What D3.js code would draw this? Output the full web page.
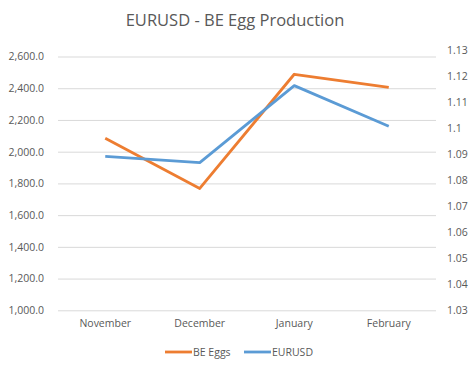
<!DOCTYPE html>
<html><head><meta charset="utf-8">
<script src="https://cdn.jsdelivr.net/npm/d3@7"></script>
<style>body{margin:0;background:#fff}svg{display:block}</style>
</head><body>
<svg id="c" width="471" height="366"></svg>
<script>
const months = ["November", "December", "January", "February"];
const beEggs = [2084, 1768, 2488, 2406];
const eurusd = [1.0891, 1.0867, 1.1163, 1.1007];
const leftTicks = [1000, 1200, 1400, 1600, 1800, 2000, 2200, 2400, 2600];
const rightTicks = [1.03, 1.04, 1.05, 1.06, 1.07, 1.08, 1.09, 1.1, 1.11, 1.12, 1.13];
const title = "EURUSD - BE Egg Production";
const seriesNames = ["BE Eggs", "EURUSD"];

const svg = d3.select("#c");
const font = "'Open Sans', 'Liberation Sans', sans-serif";
const txt = "#595959";
const x = d3.scaleBand().domain(months).range([58, 436]);
const yL = d3.scaleLinear().domain([1000, 2600]).range([310.3, 56.5]);
const yR = d3.scaleLinear().domain([1.03, 1.13]).range([310.3, 50]);

svg.append("text").attr("x", 235).attr("y", 26).attr("text-anchor", "middle")
  .attr("font-family", font).attr("font-size", 16.5).attr("fill", txt).text(title);

// gridlines + left axis
const gl = svg.append("g").attr("transform", "translate(58,0)")
  .call(d3.axisLeft(yL).tickValues(leftTicks).tickSize(-378).tickPadding(14)
    .tickFormat(d => d3.format(",.1f")(d)));
gl.select(".domain").remove();
gl.selectAll("line").attr("stroke", "#d9d9d9").attr("stroke-width", 1);
gl.selectAll("text").attr("font-family", font).attr("font-size", 10.5).attr("fill", txt);

const gr = svg.append("g").attr("transform", "translate(436,0)")
  .call(d3.axisRight(yR).tickValues(rightTicks).tickSize(0).tickPadding(11)
    .tickFormat(d => String(+d.toFixed(2))));
gr.select(".domain").remove();
gr.selectAll("text").attr("font-family", font).attr("font-size", 10.5).attr("fill", txt);

const gx = svg.append("g").attr("transform", "translate(0,310.3)")
  .call(d3.axisBottom(x).tickSize(0).tickPadding(9));
gx.select(".domain").remove();
gx.selectAll("text").attr("font-family", font).attr("font-size", 10.5).attr("fill", txt);

const cx = d => x(d) + x.bandwidth() / 2;
svg.append("path").datum(beEggs)
  .attr("d", d3.line().x((d, i) => cx(months[i])).y(d => yL(d)))
  .attr("fill", "none").attr("stroke", "#ED7D31").attr("stroke-width", 2.8).attr("stroke-linejoin", "round");
svg.append("path").datum(eurusd)
  .attr("d", d3.line().x((d, i) => cx(months[i])).y(d => yR(d)))
  .attr("fill", "none").attr("stroke", "#5B9BD5").attr("stroke-width", 2.8).attr("stroke-linejoin", "round");

// legend
const leg = [{n: seriesNames[0], c: "#ED7D31", x: 165}, {n: seriesNames[1], c: "#5B9BD5", x: 244}];
leg.forEach(l => {
  svg.append("line").attr("x1", l.x).attr("x2", l.x + 27).attr("y1", 352).attr("y2", 352)
    .attr("stroke", l.c).attr("stroke-width", 2.8);
  svg.append("text").attr("x", l.x + 28).attr("y", 356).attr("font-family", font)
    .attr("font-size", 10.5).attr("fill", txt).text(l.n);
});
</script>
</body></html>
